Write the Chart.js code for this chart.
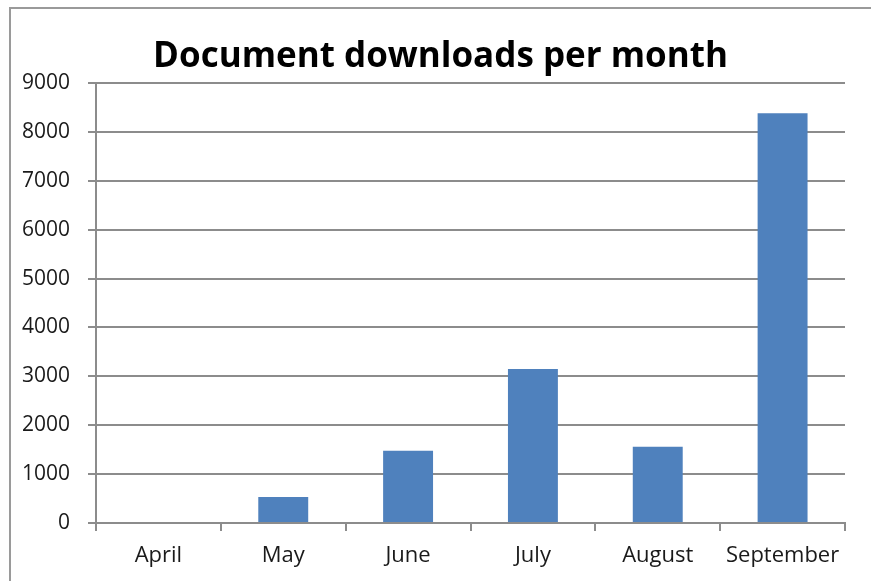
<!DOCTYPE html>
<html>
<head>
<meta charset="utf-8">
<script src="https://cdn.jsdelivr.net/npm/chart.js@4"></script>
<style>
  html, body { margin: 0; padding: 0; background: #fff; }
  #frame { position: absolute; left: 9px; top: 7px; width: 870px; height: 580px;
           border-top: 2px solid #9a9a9a; border-left: 2px solid #9a9a9a; }
  #wrap { position: absolute; left: 0; top: 0; width: 871px; height: 581px; }
</style>
</head>
<body>
<div id="frame"></div>
<div id="wrap"><canvas id="c"></canvas></div>
<script>
// ── Data ─────────────────────────────────────────────────────
const months    = ['April', 'May', 'June', 'July', 'August', 'September'];
const downloads = [0, 530, 1480, 3150, 1560, 8380];
const yTicks    = [0, 1000, 2000, 3000, 4000, 5000, 6000, 7000, 8000, 9000];

const GRID = '#8c8c8c';
const FONT = '"Open Sans", "Liberation Sans", sans-serif';

new Chart(document.getElementById('c'), {
  type: 'bar',
  data: {
    labels: months,
    datasets: [{
      label: 'Downloads',
      data: downloads,
      backgroundColor: '#4f81bd',
      borderWidth: 0,
      barPercentage: 0.4,
      categoryPercentage: 1.0
    }]
  },
  options: {
    responsive: true, maintainAspectRatio: false, animation: false,
    layout: { padding: { left: 18, right: 8, top: 0, bottom: 0 } },
    plugins: {
      legend: { display: false },
      tooltip: { enabled: false },
      title: {
        display: true, text: 'Document downloads per month', color: '#000',
        font: { family: FONT, size: 35, weight: 'bold', lineHeight: 1.2 },
        padding: { top: 36, bottom: 5 }
      }
    },
    scales: {
      x: {
        grid: { offset: true, drawOnChartArea: false, drawTicks: true, tickLength: 8, color: GRID, lineWidth: 2 },
        border: { color: GRID, width: 2 },
        ticks: { color: '#1a1a1a', font: { family: FONT, size: 22 }, padding: 12 },
        afterFit: s => { s.height = 58; }
      },
      y: {
        min: 0, max: 9000,
        afterBuildTicks: s => { s.ticks = yTicks.map(v => ({ value: v })); },
        grid: { color: GRID, lineWidth: 2, tickLength: 8 },
        border: { color: GRID, width: 2 },
        ticks: { color: '#1a1a1a', font: { family: FONT, size: 21 }, padding: 18, callback: v => String(v) },
        afterFit: s => { s.width = 78; }
      },
      // empty spacer on the right so the title centres like the original
      y2: {
        position: 'right', min: 0, max: 9000,
        grid: { display: false }, border: { display: false }, ticks: { display: false },
        afterFit: s => { s.width = 18; }
      }
    }
  }
});
</script>
</body>
</html>
